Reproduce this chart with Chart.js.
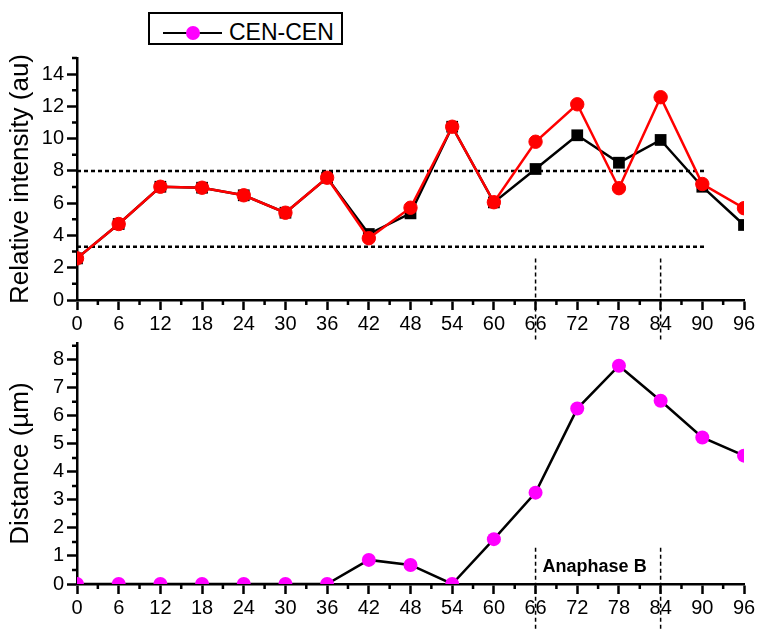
<!DOCTYPE html>
<html>
<head>
<meta charset="utf-8">
<script src="https://cdn.jsdelivr.net/npm/chart.js@4.4.1/dist/chart.umd.min.js"></script>
<style>
  html, body { margin: 0; padding: 0; background: #fff; }
  body { width: 758px; height: 638px; position: relative; overflow: hidden;
         font-family: "Liberation Sans", Arial, sans-serif; }
  #intensityChart { position: absolute; left: 0; top: 0; }
  #distanceChart { position: absolute; left: 0; top: 330px; }
  .legend { position: absolute; left: 148px; top: 12px; width: 191px; height: 29px;
            border: 2px solid #000; background: #fff; z-index: 5; }
  .legend .line { position: absolute; left: 13px; top: 17.5px; width: 59px; height: 2.5px; background: #000; }
  .legend .dot { position: absolute; left: 35.5px; top: 11.5px; width: 14px; height: 14px;
                 border-radius: 50%; background: #ff00ff; }
  .legend .label { position: absolute; left: 79px; top: 6.5px; font-size: 23px; line-height: 23px;
                   color: #000; white-space: nowrap; }
</style>
</head>
<body>
<div class="legend"><div class="line"></div><div class="dot"></div><span class="label">CEN-CEN</span></div>
<canvas id="intensityChart" width="758" height="345"></canvas>
<canvas id="distanceChart" width="758" height="308"></canvas>
<script>
// Time points (min)
const TIMES = [0, 6, 12, 18, 24, 30, 36, 42, 48, 54, 60, 66, 72, 78, 84, 90, 96];
// Relative intensity, two channels
const INTENSITY_RED   = [2.58, 4.71, 7.02, 6.96, 6.49, 5.41, 7.58, 3.83, 5.72, 10.74, 6.06, 9.81, 12.13, 6.93, 12.57, 7.19, 5.69];
const INTENSITY_BLACK = [2.58, 4.71, 7.02, 6.96, 6.49, 5.41, 7.58, 4.09, 5.37, 10.74, 6.05, 8.12, 10.21, 8.51, 9.92, 7.02, 4.65];
// Centromere–centromere distance (µm)
const CEN_DISTANCE = [0, 0, 0, 0, 0, 0, 0, 0.86, 0.68, 0, 1.6, 3.26, 6.26, 7.79, 6.54, 5.23, 4.58];
// Threshold levels of the intensity panel and where they stop along the time axis
const THRESHOLDS = [8, 3.3];
const THRESHOLD_END = 90.6;
// Anaphase B window (min)
const ANAPHASE_B = [66, 84];
const ANAPHASE_LABEL = 'Anaphase B';

const FONT = '"Liberation Sans", Arial, sans-serif';
const pts = (vals) => TIMES.map((t, i) => ({ x: t, y: vals[i] }));

// Short unlabelled ticks between the labelled ones
const minorTicks = {
  id: 'minorTicks',
  afterDraw(chart, args, opts) {
    const { ctx, chartArea } = chart;
    const xs = chart.scales.x, ys = chart.scales.y;
    ctx.save();
    ctx.strokeStyle = '#000';
    ctx.lineWidth = 2.5;
    ctx.beginPath();
    for (let v = xs.min; v <= xs.max + 1e-9; v += opts.xStep) {
      if (Math.abs(v % opts.xMajor) < 1e-9) continue;
      const px = xs.getPixelForValue(v);
      ctx.moveTo(px, chartArea.bottom);
      ctx.lineTo(px, chartArea.bottom + opts.length);
    }
    for (let v = ys.min; v <= ys.max + 1e-9; v += opts.yStep) {
      const r = v / opts.yMajor;
      if (Math.abs(r - Math.round(r)) < 1e-9 && v <= ys.max - 1e-9) continue;
      const py = ys.getPixelForValue(v);
      ctx.moveTo(chartArea.left, py);
      ctx.lineTo(chartArea.left - opts.length, py);
    }
    ctx.stroke();
    ctx.restore();
  }
};

// Phase caption placed in data space
const phaseLabel = {
  id: 'phaseLabel',
  afterDatasetsDraw(chart, args, opts) {
    if (!opts.text) return;
    const { ctx } = chart;
    ctx.save();
    ctx.font = 'bold 18px ' + FONT;
    ctx.fillStyle = '#000';
    ctx.textAlign = 'center';
    ctx.textBaseline = 'middle';
    ctx.fillText(opts.text, chart.scales.x.getPixelForValue(opts.x), chart.scales.y.getPixelForValue(opts.y));
    ctx.restore();
  }
};

function axisBase(extra) {
  return Object.assign({
    type: 'linear',
    grid: { display: true, drawOnChartArea: false, drawTicks: true, tickLength: 10,
            tickWidth: 2.5, tickColor: '#000', color: '#000' },
    border: { display: true, color: '#000', width: 2.5 },
  }, extra);
}

function xAxis(height) {
  return axisBase({
    min: 0, max: 96,
    ticks: { stepSize: 6, autoSkip: false, maxRotation: 0, padding: 2, color: '#000',
             font: { family: FONT, size: 20 } },
    afterFit(s) { s.height = height; s.paddingLeft = 0; s.paddingRight = 0; }
  });
}

function yAxis(max, step, title) {
  return axisBase({
    min: 0, max: max,
    ticks: { stepSize: step, includeBounds: false, padding: 3, color: '#000',
             font: { family: FONT, size: 20 } },
    title: { display: true, text: title, color: '#000', font: { family: FONT, size: 26 },
             padding: { top: 5, bottom: 0 } },
    afterFit(s) { s.width = 77; s.paddingTop = 0; s.paddingBottom = 0; }
  });
}

function vLine(x, y0, y1) {
  return { data: [{ x: x, y: y0 }, { x: x, y: y1 }], borderColor: '#000', borderWidth: 1.5,
           borderDash: [4, 3], pointRadius: 0, clip: false, order: 5 };
}

const common = {
  responsive: false,
  devicePixelRatio: 1,
  animation: false,
  events: [],
  plugins: { legend: { display: false }, tooltip: { enabled: false } },
};

new Chart(document.getElementById('intensityChart'), {
  type: 'line',
  data: {
    datasets: [
      { data: pts(INTENSITY_RED), borderColor: '#ff0000', backgroundColor: '#ff0000', borderWidth: 2.5,
        pointStyle: 'circle', pointRadius: 6.7, pointBorderWidth: 1, clip: 0, order: 0 },
      { data: pts(INTENSITY_BLACK), borderColor: '#000', backgroundColor: '#000', borderWidth: 2.5,
        pointStyle: 'rect', pointRadius: 8.3, pointBorderWidth: 0, clip: 0, order: 1 },
      ...THRESHOLDS.map(level => ({
        data: [{ x: 0, y: level }, { x: THRESHOLD_END, y: level }], borderColor: '#000', borderWidth: 2.5,
        borderDash: [4, 3], pointRadius: 0, order: 4 })),
      ...ANAPHASE_B.map(t => vLine(t, 2.58, -2.48)),
    ]
  },
  options: Object.assign({}, common, {
    layout: { padding: { top: 58, right: 14, left: 0, bottom: 0 } },
    scales: { x: xAxis(45), y: yAxis(15, 2, 'Relative intensity (au)') },
    plugins: Object.assign({}, common.plugins, {
      minorTicks: { xStep: 3, xMajor: 6, yStep: 1, yMajor: 2, length: 5 },
      phaseLabel: {}
    })
  }),
  plugins: [minorTicks, phaseLabel]
});

new Chart(document.getElementById('distanceChart'), {
  type: 'line',
  data: {
    datasets: [
      { data: pts(CEN_DISTANCE), borderColor: '#000', backgroundColor: '#ff00ff', borderWidth: 2.5,
        pointStyle: 'circle', pointRadius: 7, pointBorderWidth: 0, clip: 0, order: 0 },
      ...ANAPHASE_B.map(t => vLine(t, 1.29, -1.64)),
    ]
  },
  options: Object.assign({}, common, {
    layout: { padding: { top: 13, right: 14, left: 0, bottom: 0 } },
    scales: { x: xAxis(54), y: yAxis(8.6, 1, 'Distance (\u00b5m)') },
    plugins: Object.assign({}, common.plugins, {
      minorTicks: { xStep: 3, xMajor: 6, yStep: 0.5, yMajor: 1, length: 5 },
      phaseLabel: { text: ANAPHASE_LABEL, x: 74.5, y: 0.62 }
    })
  }),
  plugins: [minorTicks, phaseLabel]
});
</script>
</body>
</html>
